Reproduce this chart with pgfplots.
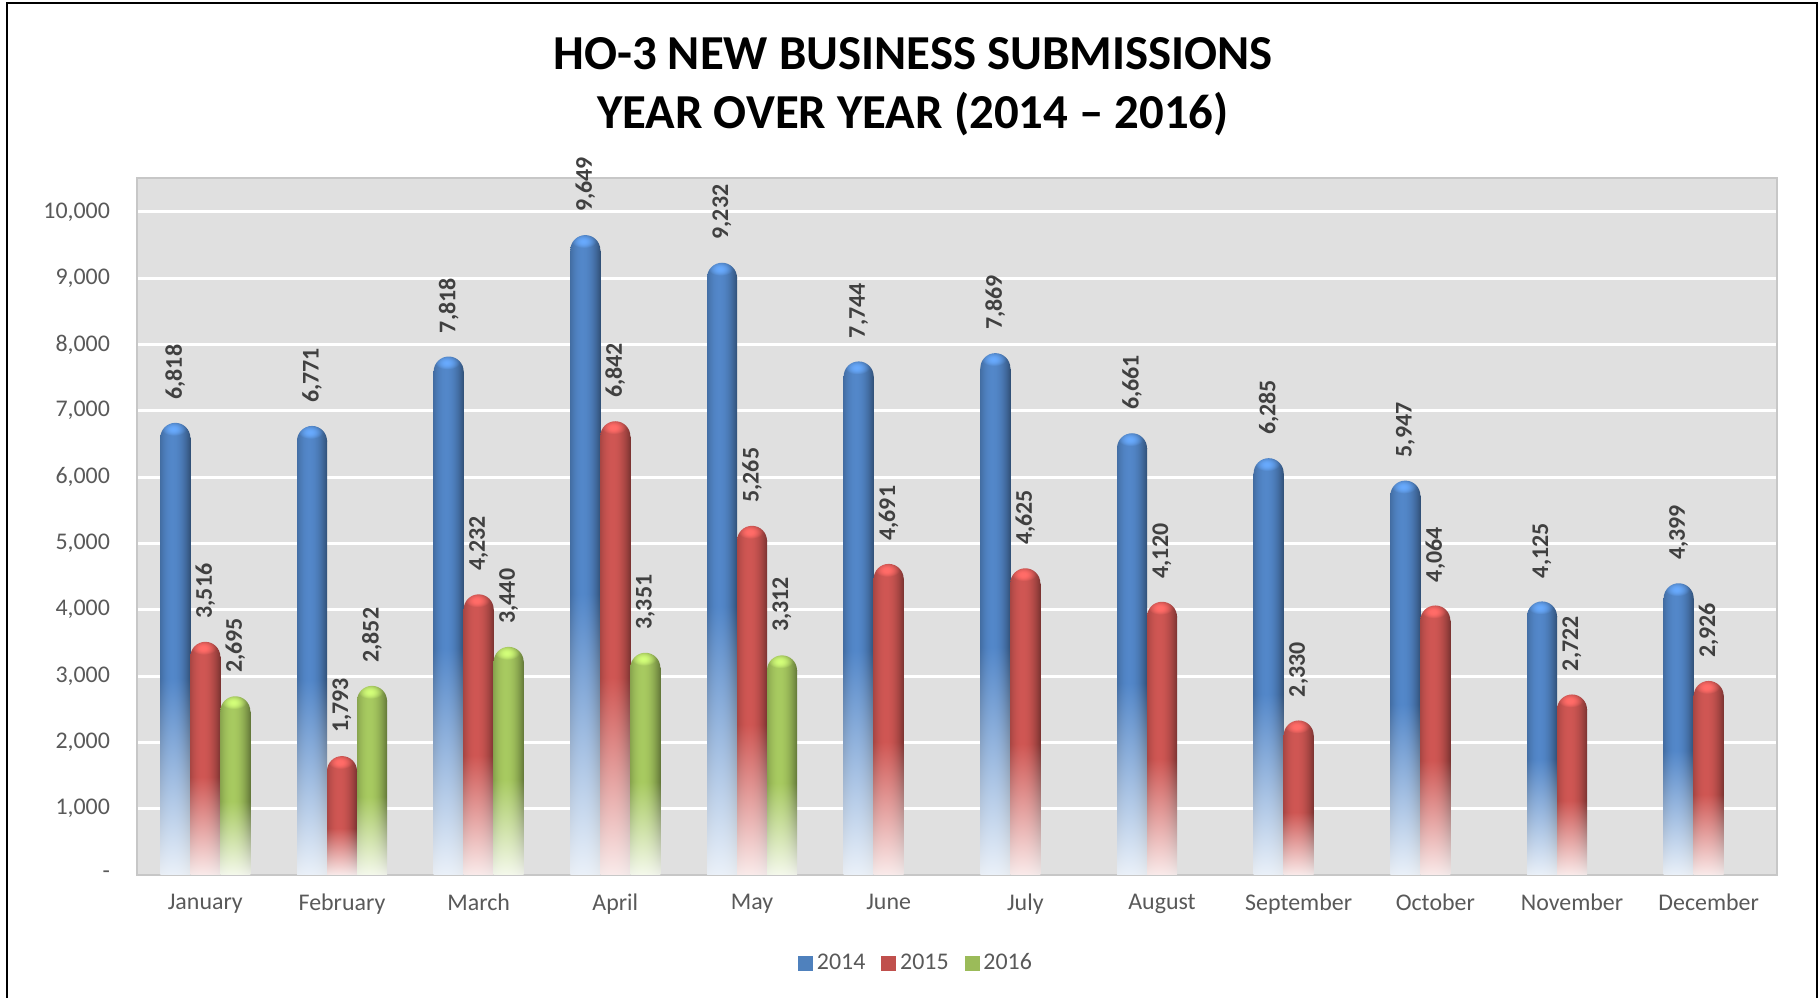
\documentclass[border=0pt]{standalone}
\usepackage{pgfplots}
\pgfplotsset{compat=1.18}
\usepackage{pgfplotstable}
\usepackage{fontspec}
\setmainfont{Carlito}
\definecolor{blueC}{RGB}{79,129,189}
\definecolor{redC}{RGB}{192,80,77}
\definecolor{greenC}{RGB}{155,187,89}
\definecolor{bgC}{RGB}{224,224,224}
\definecolor{tickC}{RGB}{89,89,89}
\definecolor{labC}{RGB}{64,64,64}

% cylinder-like bar shading: fades to white at the bottom, dark edges, highlight left of centre
\newcommand\mkcyl[4]{%
\pgfdeclarefunctionalshading{#1}{\pgfpoint{0bp}{0bp}}{\pgfpoint{100bp}{100bp}}{}{%
 25 sub 50 div dup 0 lt {pop 0} if 0.45 div dup 1 gt {pop 1} if 0.88 mul 0.12 add
 exch 25 sub 50 div 0.40 sub dup mul 1.25 mul 1.08 exch sub
 1 index 1 index #2 mul dup 1 gt {pop 1} if 1 sub mul 1 add 3 1 roll
 1 index 1 index #3 mul dup 1 gt {pop 1} if 1 sub mul 1 add 3 1 roll
 #4 mul dup 1 gt {pop 1} if 1 sub mul 1 add
}}
% cap shading: same horizontal profile, full colour, with a soft highlight
\newcommand\mkcap[4]{%
\pgfdeclarefunctionalshading{#1}{\pgfpoint{0bp}{0bp}}{\pgfpoint{100bp}{100bp}}{}{%
 25 sub 50 div 0.6 sub dup mul
 exch 25 sub 50 div dup
 0.40 sub dup mul 1.25 mul 1.08 exch sub
 3 1 roll
 0.45 sub dup mul add 6 mul 1 exch sub dup 0 lt {pop 0} if 0.28 mul
 add
 dup #2 mul dup 1 gt {pop 1} if exch
 dup #3 mul dup 1 gt {pop 1} if exch
 #4 mul dup 1 gt {pop 1} if
}}
\mkcyl{cylB}{0.300}{0.490}{0.730}
\mkcyl{cylR}{0.753}{0.314}{0.302}
\mkcyl{cylG}{0.608}{0.733}{0.349}
\mkcap{capBs}{0.300}{0.490}{0.730}
\mkcap{capRs}{0.753}{0.314}{0.302}
\mkcap{capGs}{0.608}{0.733}{0.349}

\pgfdeclareplotmark{capB}{\shade[shading=capBs, draw=none] (\pgfplotmarksize,-0.3pt) -- (\pgfplotmarksize,0pt) arc[start angle=0,end angle=180,radius=\pgfplotmarksize] -- (-\pgfplotmarksize,-0.3pt) -- cycle;}
\pgfdeclareplotmark{capR}{\shade[shading=capRs, draw=none] (\pgfplotmarksize,-0.3pt) -- (\pgfplotmarksize,0pt) arc[start angle=0,end angle=180,radius=\pgfplotmarksize] -- (-\pgfplotmarksize,-0.3pt) -- cycle;}
\pgfdeclareplotmark{capG}{\shade[shading=capGs, draw=none] (\pgfplotmarksize,-0.3pt) -- (\pgfplotmarksize,0pt) arc[start angle=0,end angle=180,radius=\pgfplotmarksize] -- (-\pgfplotmarksize,-0.3pt) -- cycle;}

\pgfplotstableread{
x a b
0 6818 3516
1 6771 1793
2 7818 4232
3 9649 6842
4 9232 5265
5 7744 4691
6 7869 4625
7 6661 4120
8 6285 2330
9 5947 4064
10 4125 2722
11 4399 2926
}\dataAB
\pgfplotstableread{
x c
0 2695
1 2852
2 3440
3 3351
4 3312
}\dataC

\begin{document}
\begin{tikzpicture}
\useasboundingbox (0,0) rectangle (909.5bp,499bp);
\fill[white] (0,0) rectangle (909.5bp,499bp);
\draw[line width=1.2bp, black] (3.5bp,0) -- (3.5bp,497.5bp) -- (908.5bp,497.5bp) -- (908.5bp,0);
\node[font=\bfseries\fontsize{24.5}{29}\selectfont, anchor=base] at (456.5bp,464.3bp) {HO-3 NEW BUSINESS SUBMISSIONS};
\node[font=\bfseries\fontsize{24.5}{29}\selectfont, anchor=base] at (456.5bp,434.8bp) {YEAR OVER YEAR (2014 – 2016)};
\begin{axis}[
  at={(68.5bp,61.5bp)}, anchor=south west, scale only axis,
  width=820bp, height=348.5bp,
  xmin=-0.5, xmax=11.5, ymin=0, ymax=10510,
  xtick={0,...,11},
  xticklabels={January,February,March,April,May,June,July,August,September,October,November,December},
  ytick={0,1000,...,10000},
  yticklabels={-,{1,000},{2,000},{3,000},{4,000},{5,000},{6,000},{7,000},{8,000},{9,000},{10,000}},
  scaled y ticks=false,
  major tick length=0pt,
  axis background/.style={fill=bgC},
  ymajorgrids, major grid style={white, line width=1.5bp},
  axis line style={draw=black!22, line width=0.8bp},
  tick label style={font=\fontsize{12}{14}\selectfont, text=tickC},
  yticklabel shift=10bp, xticklabel shift=6bp,
  /pgf/number format/1000 sep={,},
  /pgf/number format/assume math mode=true,
  every node near coord/.append style={font=\bfseries\fontsize{12}{14}\selectfont, text=labC, rotate=90, anchor=west, inner sep=0pt, xshift=19bp},
  legend style={at={(0.4756,-0.1263)}, anchor=center, draw=none, fill=none, legend columns=3,
    font=\fontsize{12}{14}\selectfont, text=tickC,
    /tikz/every even column/.append style={column sep=6bp}},
  legend cell align=left,
  bars/.style={ybar, bar width=15bp, draw=none, shade, forget plot},
  caps/.style={only marks, mark size=7.5bp, draw=none, mark options={draw=none}, forget plot, point meta=explicit, nodes near coords},
]
\pgfplotsinvokeforeach{0,...,11}{
  \addplot[bars, bar shift=-15bp, shading=cylB]
    table[x=x, y expr=\thisrow{a}-226, restrict expr to domain={\coordindex}{#1:#1}] {\dataAB};
  \addplot[bars, bar shift=0bp, shading=cylR]
    table[x=x, y expr=\thisrow{b}-226, restrict expr to domain={\coordindex}{#1:#1}] {\dataAB};
}
\pgfplotsinvokeforeach{0,...,4}{
  \addplot[bars, bar shift=15bp, shading=cylG]
    table[x=x, y expr=\thisrow{c}-226, restrict expr to domain={\coordindex}{#1:#1}] {\dataC};
}
\addplot[caps, mark=capB]
  table[x expr=\thisrow{x}-0.2195, y expr=\thisrow{a}-226, meta=a] {\dataAB};
\addplot[caps, mark=capR]
  table[x=x, y expr=\thisrow{b}-226, meta=b] {\dataAB};
\addplot[caps, mark=capG]
  table[x expr=\thisrow{x}+0.2195, y expr=\thisrow{c}-226, meta=c] {\dataC};
\addlegendimage{legend image code/.code={\fill[blueC] (0bp,-3.5bp) rectangle (7bp,3.5bp);}}
\addlegendentry{2014}
\addlegendimage{legend image code/.code={\fill[redC] (0bp,-3.5bp) rectangle (7bp,3.5bp);}}
\addlegendentry{2015}
\addlegendimage{legend image code/.code={\fill[greenC] (0bp,-3.5bp) rectangle (7bp,3.5bp);}}
\addlegendentry{2016}
\end{axis}
\end{tikzpicture}
\end{document}
